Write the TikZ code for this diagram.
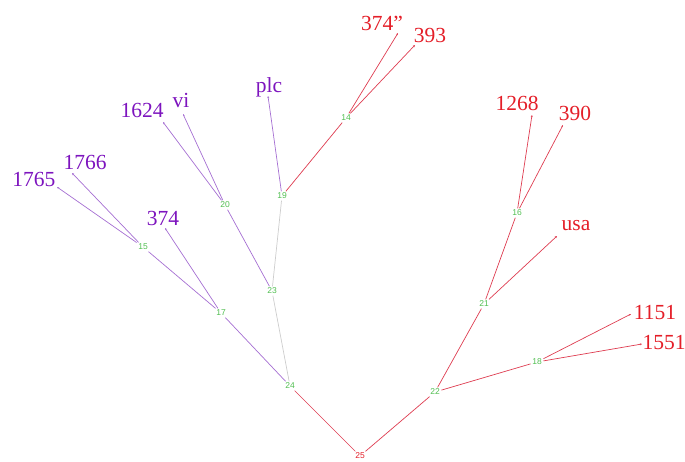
\documentclass[tikz,border=0pt]{standalone}
\usepackage{fontspec}
\setmainfont{Liberation Serif}
\newfontfamily\numfont{Liberation Sans}
\usetikzlibrary{arrows.meta}
\definecolor{LeafRed}{RGB}{228,30,40}
\definecolor{LeafPurple}{RGB}{125,20,190}
\definecolor{LineRed}{RGB}{222,60,80}
\definecolor{LinePurple}{RGB}{165,110,210}
\definecolor{LineGray}{RGB}{205,205,205}
\definecolor{NumGreen}{RGB}{80,190,80}
\tikzset{Inner/.style={%
    text=NumGreen,%
    font=\numfont\fontsize{8.5}{8.5}\selectfont,%
    inner sep=1.5pt,%
}}
\tikzset{Leaf/.style={%
    font=\fontsize{21.5}{21.5}\selectfont,%
    inner sep=0pt,%
}}
\tikzset{RedEdge/.style={%
    draw=LineRed,%
    line width=0.7pt,%
}}
\tikzset{PurpleEdge/.style={%
    draw=LinePurple,%
    line width=0.7pt,%
}}
\tikzset{GrayEdge/.style={%
    draw=LineGray,%
    line width=0.7pt,%
}}
\tikzset{RedTip/.style={%
    RedEdge,%
    -{Stealth[length=2.2pt,width=2pt]},%
}}
\tikzset{PurpleTip/.style={%
    PurpleEdge,%
    -{Stealth[length=2.2pt,width=2pt]},%
}}

\begin{document}
\begin{tikzpicture}[x=1pt,y=-1pt]
    \useasboundingbox (0,0) rectangle (685,462);

    % inner nodes
    \node[Inner, text=LeafRed] (n25) at (360,456) {25};
    \node[Inner] (n24) at (290,386) {24};
    \node[Inner] (n22) at (435,392) {22};
    \node[Inner] (n23) at (272,291) {23};
    \node[Inner] (n17) at (221,313) {17};
    \node[Inner] (n15) at (143,247) {15};
    \node[Inner] (n20) at (225,205) {20};
    \node[Inner] (n19) at (282,196) {19};
    \node[Inner] (n14) at (346,118) {14};
    \node[Inner] (n21) at (484,304) {21};
    \node[Inner] (n16) at (517,213) {16};
    \node[Inner] (n18) at (537,362) {18};

    % leaves
    \coordinate (t1765) at (57,187);
    \coordinate (t1766) at (72,173);
    \coordinate (t374) at (165,228);
    \coordinate (t1624) at (163,122);
    \coordinate (tvi) at (183,114);
    \coordinate (tplc) at (268,96);
    \coordinate (t374b) at (398,33);
    \coordinate (t393) at (415,45);
    \coordinate (t1268) at (532,115);
    \coordinate (t390) at (563,125);
    \coordinate (tusa) at (557,236);
    \coordinate (t1151) at (631,314);
    \coordinate (t1551) at (642,344);

    \node[Leaf, text=LeafPurple] (l1765) at (34,179) {1765};
    \node[Leaf, text=LeafPurple] (l1766) at (85,162) {1766};
    \node[Leaf, text=LeafPurple] (l374) at (163,218) {374};
    \node[Leaf, text=LeafPurple] (l1624) at (142,110) {1624};
    \node[Leaf, text=LeafPurple] (lvi) at (181,100) {vi};
    \node[Leaf, text=LeafPurple] (lplc) at (269,87) {plc};
    \node[Leaf, text=LeafRed] (l374b) at (382,23) {374''};
    \node[Leaf, text=LeafRed] (l393) at (430,35) {393};
    \node[Leaf, text=LeafRed] (l1268) at (517,103) {1268};
    \node[Leaf, text=LeafRed] (l390) at (575,113) {390};
    \node[Leaf, text=LeafRed] (lusa) at (576,226) {usa};
    \node[Leaf, text=LeafRed] (l1151) at (655,313) {1151};
    \node[Leaf, text=LeafRed] (l1551) at (664,343) {1551};

    \path (n25) edge[RedEdge] (n24);
    \path (n25) edge[RedEdge] (n22);
    \path (n24) edge[PurpleEdge] (n17);
    \path (n24) edge[GrayEdge] (n23);
    \path (n17) edge[PurpleEdge] (n15);
    \path (n17) edge[PurpleTip] (t374);
    \path (n15) edge[PurpleTip] (t1765);
    \path (n15) edge[PurpleTip] (t1766);
    \path (n23) edge[PurpleEdge] (n20);
    \path (n23) edge[GrayEdge] (n19);
    \path (n20) edge[PurpleTip] (t1624);
    \path (n20) edge[PurpleTip] (tvi);
    \path (n19) edge[PurpleTip] (tplc);
    \path (n19) edge[RedEdge] (n14);
    \path (n14) edge[RedTip] (t374b);
    \path (n14) edge[RedTip] (t393);
    \path (n22) edge[RedEdge] (n21);
    \path (n22) edge[RedEdge] (n18);
    \path (n21) edge[RedEdge] (n16);
    \path (n21) edge[RedTip] (tusa);
    \path (n16) edge[RedTip] (t1268);
    \path (n16) edge[RedTip] (t390);
    \path (n18) edge[RedTip] (t1151);
    \path (n18) edge[RedTip] (t1551);
\end{tikzpicture}
\end{document}
